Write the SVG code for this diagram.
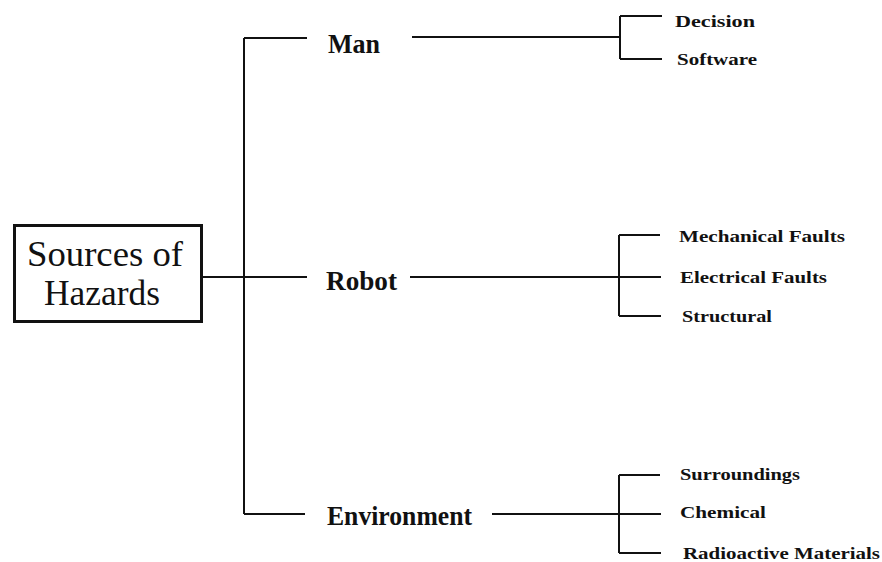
<svg xmlns="http://www.w3.org/2000/svg" width="882" height="562" viewBox="0 0 882 562">
<style>
.ln{stroke:#111;stroke-width:2;fill:none}
.main{font-family:"Liberation Serif","DejaVu Serif","Times New Roman",serif;font-size:27px;font-weight:bold;fill:#111}
.sub{font-family:"Liberation Serif","DejaVu Serif","Times New Roman",serif;font-size:17px;font-weight:bold;fill:#111}
.root{font-family:"Liberation Serif","DejaVu Serif","Times New Roman",serif;font-size:36px;font-weight:normal;fill:#111}
</style>
<rect width="882" height="562" fill="#fff"/>
<g id="connectors">
<path class="ln" d="M202 277H307M244 38V514M244 38H307M244 514H305"/>
<path class="ln" d="M412 37H620M620 16V59M620 16H662M620 59H662"/>
<path class="ln" d="M410 277H619M619 235V316M619 235H660M619 277H661M619 316H661"/>
<path class="ln" d="M492 514H619M619 475V553M619 475H660M619 514H661M619 553H661"/>
</g>
<g id="root">
<rect x="14.5" y="225.5" width="187" height="96" fill="#fff" stroke="#111" stroke-width="3"/>
<text class="root" x="27" y="266" textLength="156" lengthAdjust="spacingAndGlyphs">Sources of</text>
<text class="root" x="44" y="305" textLength="116" lengthAdjust="spacingAndGlyphs">Hazards</text>
</g>
<g id="man"><text class="main" x="328" y="53" textLength="52" lengthAdjust="spacingAndGlyphs">Man</text></g>
<g id="robot"><text class="main" x="326" y="290" textLength="71" lengthAdjust="spacingAndGlyphs">Robot</text></g>
<g id="environment"><text class="main" x="327" y="525" textLength="145" lengthAdjust="spacingAndGlyphs">Environment</text></g>
<g id="decision"><text class="sub" x="675" y="27" textLength="80" lengthAdjust="spacingAndGlyphs">Decision</text></g>
<g id="software"><text class="sub" x="677" y="65" textLength="80" lengthAdjust="spacingAndGlyphs">Software</text></g>
<g id="mechanical"><text class="sub" x="679" y="242" textLength="166" lengthAdjust="spacingAndGlyphs">Mechanical Faults</text></g>
<g id="electrical"><text class="sub" x="680" y="283" textLength="147" lengthAdjust="spacingAndGlyphs">Electrical Faults</text></g>
<g id="structural"><text class="sub" x="682" y="322" textLength="90" lengthAdjust="spacingAndGlyphs">Structural</text></g>
<g id="surroundings"><text class="sub" x="680" y="480" textLength="120" lengthAdjust="spacingAndGlyphs">Surroundings</text></g>
<g id="chemical"><text class="sub" x="680" y="518" textLength="86" lengthAdjust="spacingAndGlyphs">Chemical</text></g>
<g id="radioactive"><text class="sub" x="683" y="559" textLength="197" lengthAdjust="spacingAndGlyphs">Radioactive Materials</text></g>
</svg>
